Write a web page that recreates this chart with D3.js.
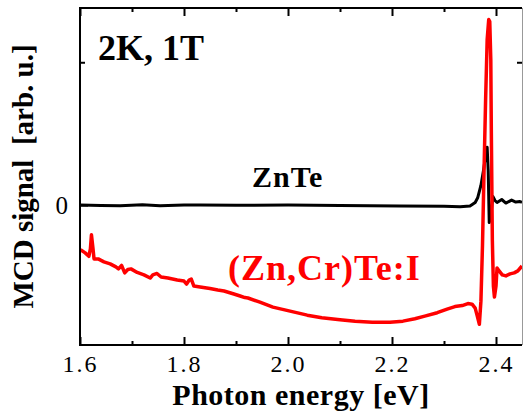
<!DOCTYPE html>
<html>
<head>
<meta charset="utf-8">
<script src="https://cdn.jsdelivr.net/npm/d3@7"></script>
<style>
  html, body { margin: 0; padding: 0; background: #fff; }
  svg { display: block; }
  text { font-family: "Liberation Serif", "Times New Roman", serif; }
</style>
</head>
<body>
<svg id="chart" width="523" height="414"></svg>
<script>
// Photon energy (eV) and MCD signal (arb. u.) for (Zn,Cr)Te:I
const energyCrTe = [1.601,1.610,1.617,1.620,1.622,1.625,1.627,1.635,1.646,1.658,1.669,1.674,1.680,1.686,1.692,1.698,
  1.710,1.723,1.735,1.740,1.748,1.756,1.769,1.787,1.800,1.805,1.810,1.814,1.819,1.831,1.850,1.865,1.877,1.896,
  1.908,1.917,1.923,1.946,1.971,2.004,2.037,2.065,2.100,2.129,2.162,2.196,2.221,2.244,2.263,2.287,2.306,2.321,
  2.335,2.346,2.354,2.360,2.364,2.368,2.371,2.374,2.377,2.380,2.383,2.386,2.388,2.390,2.391,2.393,2.395,2.397,
  2.400,2.402,2.406,2.412,2.419,2.427,2.435,2.442,2.450];
const mcdCrTe = [-0.313,-0.335,-0.359,-0.306,-0.208,-0.306,-0.377,-0.377,-0.398,-0.412,-0.433,-0.447,-0.423,-0.475,-0.451,-0.447,
  -0.472,-0.489,-0.511,-0.489,-0.479,-0.504,-0.511,-0.525,-0.532,-0.553,-0.525,-0.518,-0.567,-0.574,-0.585,-0.595,-0.602,-0.623,
  -0.637,-0.648,-0.651,-0.680,-0.715,-0.743,-0.771,-0.789,-0.803,-0.813,-0.820,-0.820,-0.813,-0.796,-0.778,-0.754,-0.729,-0.711,
  -0.704,-0.690,-0.694,-0.722,-0.778,-0.835,-0.673,-0.285,0.243,0.736,1.158,1.299,1.285,1.018,0.525,-0.250,-0.567,-0.644,
  -0.567,-0.440,-0.461,-0.489,-0.496,-0.482,-0.475,-0.461,-0.426];

// Photon energy (eV) and MCD signal (arb. u.) for ZnTe
const energyZnTe = [1.600,1.640,1.677,1.720,1.754,1.800,1.831,1.900,2.000,2.100,2.215,2.300,2.331,2.350,2.360,2.365,
  2.371,2.376,2.380,2.383,2.385,2.387,2.390,2.394,2.398,2.402,2.411,2.419,2.430,2.438,2.446,2.450];
const mcdZnTe = [0.000,-0.003,-0.004,0.002,-0.004,0.001,0.000,-0.002,0.000,-0.003,-0.007,-0.008,-0.011,-0.007,0.018,0.053,
  0.137,0.243,0.349,0.405,0.243,-0.123,-0.074,0.060,0.032,0.018,0.039,0.014,0.035,0.021,0.025,0.018];

const xMajorTicks = [1.6, 1.8, 2.0, 2.2, 2.4];
const xMinorTicks = [1.7, 1.9, 2.1, 2.3];
const yMajorTicks = [0];
const yMinorTicks = [1];

const svg = d3.select("#chart");
const m = { left: 80, right: 522, top: 8, bottom: 345 };

const x = d3.scaleLinear().domain([1.6, 2.45]).range([m.left, m.right]);
const y = d3.scaleLinear().domain([-0.98, 1.38]).range([m.bottom, m.top]);

const line = d3.line().x(d => x(d[0])).y(d => y(d[1]));

// clip the traces to the plotting frame
svg.append("defs").append("clipPath").attr("id", "plotArea")
  .append("rect").attr("x", m.left).attr("y", m.top)
  .attr("width", m.right - m.left).attr("height", m.bottom - m.top);

const traces = svg.append("g").attr("clip-path", "url(#plotArea)");

traces.append("path")
  .datum(d3.zip(energyZnTe, mcdZnTe))
  .attr("d", line)
  .attr("fill", "none").attr("stroke", "#000").attr("stroke-width", 3)
  .attr("stroke-linejoin", "round");

traces.append("path")
  .datum(d3.zip(energyCrTe, mcdCrTe))
  .attr("d", line)
  .attr("fill", "none").attr("stroke", "#ff0000").attr("stroke-width", 3.5)
  .attr("stroke-linejoin", "round");

// axes with inward ticks
function styleAxis(g) {
  g.select(".domain").remove();
  g.selectAll(".tick line").attr("stroke", "#000").attr("stroke-width", 2);
}

svg.append("g").attr("transform", `translate(0,${m.bottom})`)
  .call(d3.axisBottom(x).tickValues(xMajorTicks).tickSize(-8).tickPadding(10).tickFormat(d3.format(".1f")))
  .call(styleAxis)
  .call(g => g.selectAll(".tick text").attr("font-size", 24).attr("fill", "#000")
    .attr("letter-spacing", 2).attr("font-family", "Liberation Serif"));

svg.append("g").attr("transform", `translate(0,${m.bottom})`)
  .call(d3.axisBottom(x).tickValues(xMinorTicks).tickSize(-4).tickFormat(""))
  .call(styleAxis);

svg.append("g").attr("transform", `translate(0,${m.top})`)
  .call(d3.axisTop(x).tickValues(xMajorTicks).tickSize(-8).tickFormat(""))
  .call(styleAxis);

svg.append("g").attr("transform", `translate(0,${m.top})`)
  .call(d3.axisTop(x).tickValues(xMinorTicks).tickSize(-4).tickFormat(""))
  .call(styleAxis);

svg.append("g").attr("transform", `translate(${m.left},0)`)
  .call(d3.axisLeft(y).tickValues(yMajorTicks).tickSize(-8).tickPadding(12).tickFormat(d3.format("d")))
  .call(styleAxis)
  .call(g => g.selectAll(".tick text").attr("font-size", 25).attr("fill", "#000")
    .attr("font-family", "Liberation Serif"));

svg.append("g").attr("transform", `translate(${m.left},0)`)
  .call(d3.axisLeft(y).tickValues(yMinorTicks).tickSize(-5).tickFormat(""))
  .call(styleAxis);

svg.append("g").attr("transform", `translate(${m.right},0)`)
  .call(d3.axisRight(y).tickValues(yMinorTicks).tickSize(-5).tickFormat(""))
  .call(styleAxis);

// frame
svg.append("path")
  .attr("d", `M${m.left},${m.top}H${m.right}M${m.left},${m.top - 1}V${m.bottom + 1}M${m.left - 1},${m.bottom}H${m.right}`)
  .attr("stroke", "#000").attr("stroke-width", 2).attr("fill", "none");
svg.append("line")
  .attr("x1", m.right + 0.5).attr("x2", m.right + 0.5).attr("y1", m.top).attr("y2", m.bottom)
  .attr("stroke", "#999").attr("stroke-width", 1);

// axis titles
svg.append("text")
  .attr("x", (m.left + m.right) / 2).attr("y", 405)
  .attr("text-anchor", "middle").attr("font-size", 30).attr("font-weight", "bold")
  .attr("letter-spacing", 0.5)
  .text("Photon energy [eV]");

svg.append("text")
  .attr("transform", `translate(33,${(m.top + m.bottom) / 2}) rotate(-90)`)
  .attr("text-anchor", "middle").attr("font-size", 29).attr("font-weight", "bold")
  .attr("xml:space", "preserve")
  .text("MCD signal  [arb. u.]");

// annotations
svg.append("text")
  .attr("x", 98).attr("y", 60).attr("font-size", 36).attr("font-weight", "bold")
  .text("2K, 1T");

svg.append("text")
  .attr("x", 252).attr("y", 187).attr("font-size", 30).attr("font-weight", "bold")
  .attr("letter-spacing", 1)
  .text("ZnTe");

svg.append("text")
  .attr("x", 228).attr("y", 280).attr("font-size", 36).attr("font-weight", "bold")
  .attr("letter-spacing", 1)
  .attr("fill", "#ff0000")
  .text("(Zn,Cr)Te:I");
</script>
</body>
</html>
